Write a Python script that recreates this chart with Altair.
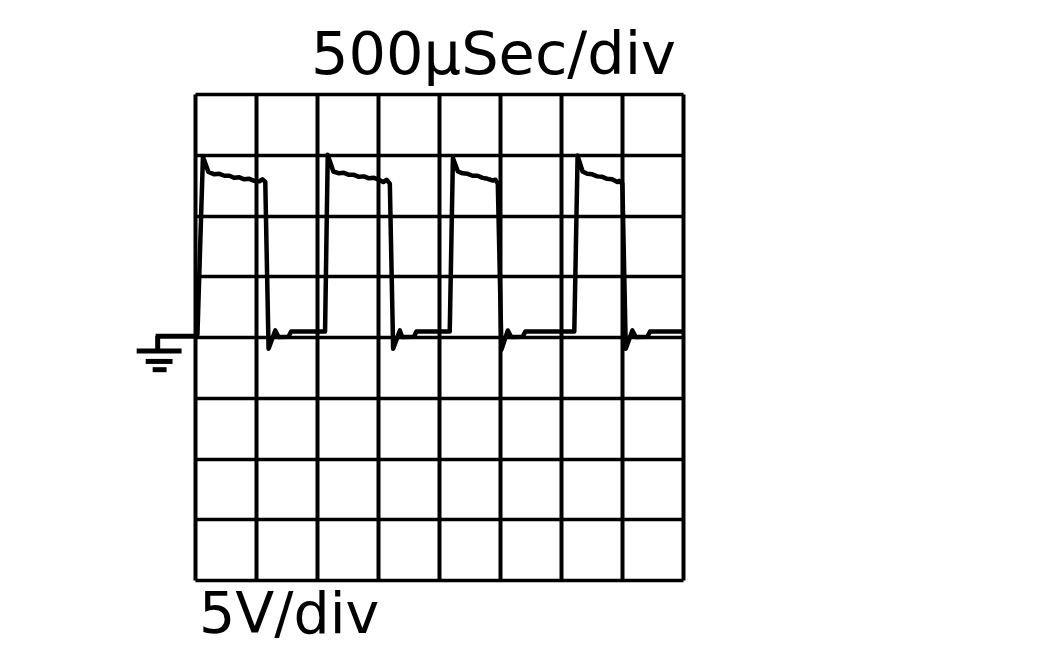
import altair as alt
import pandas as pd

# Time in microseconds (500 us/div, 8 divisions), voltage in volts (5 V/div, ground at 4 divs from top)
t_us = [
    4, 20, 65, 110, 159, 200, 241, 282, 323, 364, 404, 445, 486, 527, 552, 576, 603, 658, 685, 766, 788,
    1066, 1088, 1134, 1181, 1221, 1262, 1303, 1344, 1385, 1426, 1467, 1507, 1543, 1570, 1597, 1624, 1679, 1698, 1796, 1815,
    2088, 2114, 2155, 2194, 2235, 2275, 2316, 2357, 2398, 2441, 2463, 2482, 2512, 2564, 2592, 2686, 2708,
    3109, 3136, 3177, 3215, 3256, 3297, 3338, 3378, 3419, 3462, 3476, 3503, 3531, 3585, 3613, 3708, 3730, 3999,
]
volts = [
    0.10, 0.19, 14.83, 13.59, 13.39, 13.43, 13.27, 13.27, 13.10, 13.14, 12.98, 13.02, 12.85, 12.81, 12.98, 12.77, -0.96, 0.54, 0.00, 0.02, 0.46,
    0.46, 14.99, 13.62, 13.47, 13.51, 13.35, 13.35, 13.18, 13.22, 13.06, 13.10, 12.94, 12.75, 12.94, 12.62, -0.96, 0.54, 0.00, 0.02, 0.46,
    0.46, 14.72, 13.62, 13.47, 13.43, 13.27, 13.27, 13.10, 13.02, 12.88, 12.94, 12.62, -1.04, 0.54, 0.00, 0.02, 0.46,
    0.46, 14.93, 13.62, 13.43, 13.39, 13.22, 13.18, 13.02, 12.98, 12.75, 12.85, 12.62, -0.96, 0.54, 0.00, 0.02, 0.46, 0.46,
]

# Ground marker segments (same units)
gnd_x1 = [-323, -306, -478, -404, -347]
gnd_x2 = [4, -306, -110, -184, -233]
gnd_y1 = [0.07, 0.07, -1.15, -2.01, -2.69]
gnd_y2 = [0.07, -1.15, -1.15, -2.01, -2.69]

grid_t = [0, 500, 1000, 1500, 2000, 2500, 3000, 3500, 4000]
grid_v = [-20, -15, -10, -5, 0, 5, 10, 15, 20]

title_text = "500μSec/div"
scale_text = "5V/div"

trace = pd.DataFrame({"t": t_us, "v": volts, "i": list(range(len(t_us)))})
gnd = pd.DataFrame({"x1": gnd_x1, "x2": gnd_x2, "y1": gnd_y1, "y2": gnd_y2})

xs = alt.Scale(domain=[0, 4000], nice=False, zero=False)
ys = alt.Scale(domain=[-20, 20], nice=False, zero=False)

xaxis = alt.Axis(values=grid_t, grid=True, gridColor="black", gridWidth=4, gridOpacity=1,
                 domain=False, ticks=False, labels=False, title=None)
yaxis = alt.Axis(values=grid_v, grid=True, gridColor="black", gridWidth=3.6, gridOpacity=1,
                 domain=False, ticks=False, labels=False, title=None)

line = alt.Chart(trace).mark_line(color="black", strokeWidth=4.5, strokeJoin="round", clip=False).encode(
    x=alt.X("t:Q", scale=xs, axis=xaxis),
    y=alt.Y("v:Q", scale=ys, axis=yaxis),
    order="i:Q",
)

ground = alt.Chart(gnd).mark_rule(color="black", strokeWidth=5, clip=False).encode(
    x=alt.X("x1:Q", scale=xs),
    x2="x2:Q",
    y=alt.Y("y1:Q", scale=ys),
    y2="y2:Q",
)

top_label = alt.Chart(pd.DataFrame({"s": [title_text]})).mark_text(
    font="DejaVu Sans", fontSize=59, align="left", baseline="alphabetic", color="black"
).encode(text="s:N", x=alt.value(116), y=alt.value(-20.5))

bottom_label = alt.Chart(pd.DataFrame({"s": [scale_text]})).mark_text(
    font="DejaVu Sans", fontSize=57, align="left", baseline="alphabetic", color="black"
).encode(text="s:N", x=alt.value(4), y=alt.value(539))

chart = alt.layer(ground, line, top_label, bottom_label).properties(
    width=488, height=486,
    autosize=alt.AutoSizeParams(type="none"),
    padding={"left": 187, "top": 86, "right": 40, "bottom": 80},
).configure_view(stroke="black", strokeWidth=5).configure(background="white")

chart.save("out.html", embed_options={"renderer": "svg", "actions": False})
